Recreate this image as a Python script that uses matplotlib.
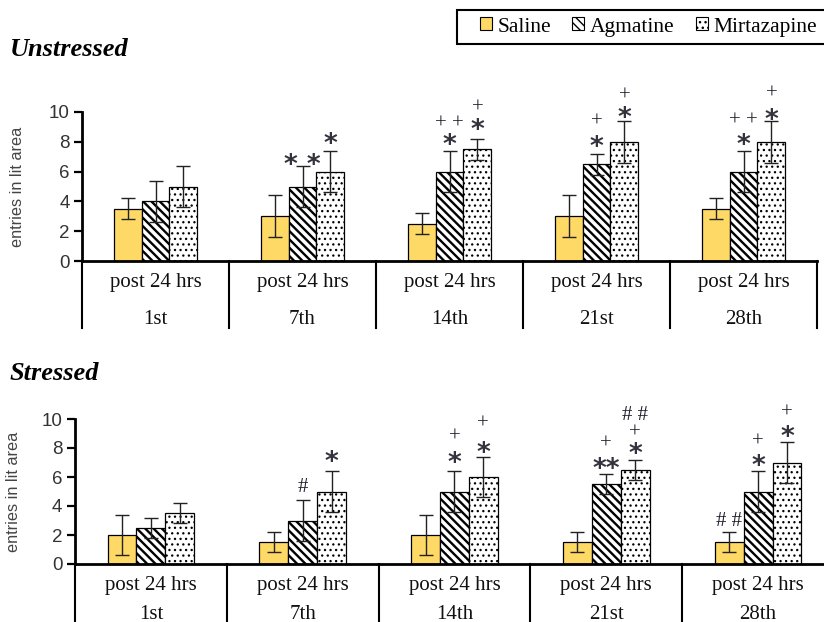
import matplotlib
matplotlib.use('Agg')
import matplotlib.pyplot as plt
from matplotlib.patches import Patch, Rectangle

categories = ['1st', '7th', '14th', '21st', '28th']
row_label = 'post 24 hrs'
series = ['Saline', 'Agmatine', 'Mirtazapine']

unstressed_saline = [3.5, 3.0, 2.5, 3.0, 3.5]
unstressed_saline_err = [0.7, 1.4, 0.7, 1.4, 0.7]
unstressed_agmatine = [4.0, 5.0, 6.0, 6.5, 6.0]
unstressed_agmatine_err = [1.4, 1.4, 1.4, 0.7, 1.4]
unstressed_mirtazapine = [5.0, 6.0, 7.5, 8.0, 8.0]
unstressed_mirtazapine_err = [1.4, 1.4, 0.7, 1.4, 1.4]

stressed_saline = [2.0, 1.5, 2.0, 1.5, 1.5]
stressed_saline_err = [1.4, 0.7, 1.4, 0.7, 0.7]
stressed_agmatine = [2.5, 3.0, 5.0, 5.5, 5.0]
stressed_agmatine_err = [0.7, 1.4, 1.4, 0.7, 1.4]
stressed_mirtazapine = [3.5, 5.0, 6.0, 6.5, 7.0]
stressed_mirtazapine_err = [0.7, 1.4, 1.4, 0.7, 1.4]

# significance marks: (category index, series index, text, y value)
unstressed_marks = [
    (1, 1, '* *', 6.85), (1, 2, '*', 8.3),
    (2, 1, '*', 8.25), (2, 1, '+ +', 9.2), (2, 2, '*', 9.2), (2, 2, '+', 10.25),
    (3, 1, '*', 8.1), (3, 1, '+', 9.3), (3, 2, '*', 10.0), (3, 2, '+', 11.1),
    (4, 1, '*', 8.2), (4, 1, '+ +', 9.4), (4, 2, '*', 9.9), (4, 2, '+', 11.2),
]
stressed_marks = [
    (1, 1, '#', 5.3), (1, 2, '*', 7.5),
    (2, 1, '*', 7.4), (2, 1, '+', 8.75), (2, 2, '*', 8.1), (2, 2, '+', 9.65),
    (3, 1, '**', 7.0), (3, 1, '+', 8.3), (3, 2, '*', 8.0), (3, 2, '+', 9.05), (3, 2, '# #', 10.25),
    (4, 0, '# #', 2.9), (4, 1, '*', 7.2), (4, 1, '+', 8.4), (4, 2, '*', 9.2), (4, 2, '+', 10.4),
]

W, H = 824, 622
fig = plt.figure(figsize=(W / 100, H / 100), dpi=100)

SAL_COLOR = '#FFD966'
styles = [
    dict(color=SAL_COLOR, hatch=None, hlw=1.0),
    dict(color='white', hatch='\\\\\\\\', hlw=1.7),
    dict(color='white', hatch='...', hlw=0.9),
]
bw = 0.19
serif = 'Liberation Serif'


def draw_panel(ax, vals, errs, marks, sep_depth, row1, row2):
    ncat = len(categories)
    for si in range(3):
        xs = [i + 0.5 + (si - 1) * bw for i in range(ncat)]
        with plt.rc_context({'hatch.linewidth': styles[si]['hlw']}):
            ax.bar(xs, vals[si], width=bw, color=styles[si]['color'],
                   hatch=styles[si]['hatch'], edgecolor='black', linewidth=0.9, zorder=2)
        ax.errorbar(xs, vals[si], yerr=errs[si], fmt='none', ecolor='#222222',
                    elinewidth=1.0, capsize=5, capthick=1.0, zorder=3)
    for ci, si, txt, y in marks:
        x = ci + 0.5 + (si - 1) * bw
        if '*' in txt:
            ax.text(x, y - 0.5, txt, ha='center', va='center', fontsize=19,
                    fontweight='bold', color='#33333d', family='DejaVu Sans')
        else:
            ax.text(x, y, txt, ha='center', va='center', fontsize=15,
                    color='#1e1e2c', family=serif)
    ax.set_xlim(0, ncat)
    ax.set_ylim(0, 10)
    ax.set_yticks([0, 2, 4, 6, 8, 10])
    ax.set_xticks([])
    for s in ['top', 'right']:
        ax.spines[s].set_visible(False)
    ax.spines['left'].set_linewidth(2)
    ax.spines['bottom'].set_linewidth(2)
    ax.tick_params(axis='y', direction='out', length=6, width=1.6, labelsize=13.5,
                   pad=3)
    for lab in ax.get_yticklabels():
        lab.set_family('Liberation Sans')
        lab.set_color('#333333')
    for i in range(ncat + 1):
        ax.plot([i, i], [0, -sep_depth], color='black', lw=1.5, clip_on=False)
    for i, c in enumerate(categories):
        ax.text(i + 0.5, -row1, row_label, ha='center', va='center', fontsize=15,
                family=serif, color='#111111')
        ax.text(i + 0.5, -row2, c, ha='center', va='center', fontsize=15,
                family=serif, color='#111111')
    ax.set_ylabel('entries in lit area', family='Liberation Sans',
                  fontsize=11.7, color='#444444')


ax1 = fig.add_axes([82 / W, 1 - 261 / H, 735 / W, 149 / H])
draw_panel(ax1,
           [unstressed_saline, unstressed_agmatine, unstressed_mirtazapine],
           [unstressed_saline_err, unstressed_agmatine_err, unstressed_mirtazapine_err],
           unstressed_marks, 4.5, 1.45, 3.95)
ax1.yaxis.set_label_coords(-57 / 735, 0.5)

ax2 = fig.add_axes([75 / W, 1 - 564 / H, 759 / W, 145 / H])
draw_panel(ax2,
           [stressed_saline, stressed_agmatine, stressed_mirtazapine],
           [stressed_saline_err, stressed_agmatine_err, stressed_mirtazapine_err],
           stressed_marks, 4.3, 1.45, 3.45)
ax2.yaxis.set_label_coords(-54 / 759, 0.5)

fig.text(10 / W, 1 - 49 / H, 'Unstressed', family=serif, fontsize=19,
         fontweight='bold', fontstyle='italic', va='center', ha='left')
fig.text(10 / W, 1 - 373 / H, 'Stressed', family=serif, fontsize=19,
         fontweight='bold', fontstyle='italic', va='center', ha='left')

# legend frame (extends past the right edge as in the reference)
fig.patches.append(Rectangle((457 / W, 1 - 44 / H), 380 / W, 34 / H,
                             transform=fig.transFigure, facecolor='white',
                             edgecolor='black', linewidth=1.5, zorder=0))
handles = []
for i in range(3):
    with plt.rc_context({'hatch.linewidth': styles[i]['hlw']}):
        handles.append(Patch(facecolor=styles[i]['color'], hatch=styles[i]['hatch'],
                             edgecolor='black', linewidth=0.8))
leg = fig.legend(handles, series, loc='center left', bbox_to_anchor=(480 / W, 1 - 27 / H),
                 ncol=3, frameon=False, handlelength=0.55,
                 handleheight=0.55, handletextpad=0.25, columnspacing=1.0,
                 borderpad=0.0, borderaxespad=0,
                 prop={'family': serif, 'size': 15.5})

fig.savefig('out.png', dpi=100)
